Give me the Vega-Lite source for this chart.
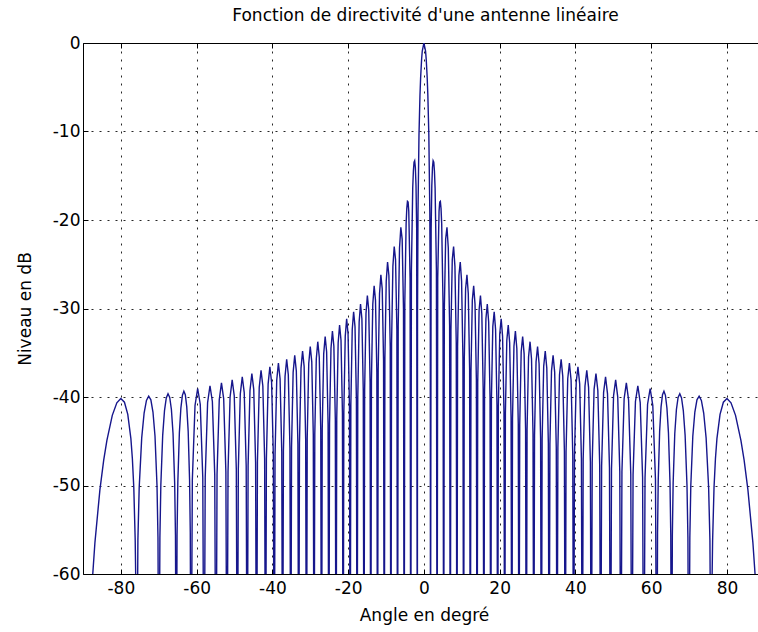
{
"$schema": "https://vega.github.io/schema/vega-lite/v6.json",
"width": 675, "height": 531,
"autosize": {"type": "none"},
"padding": {"left": 83, "top": 43, "right": 0, "bottom": 58},
"background": "white",
"title": {"text": "Fonction de directivité d'une antenne linéaire", "font": "DejaVu Sans", "fontSize": 17, "fontWeight": "normal", "color": "black", "offset": 14, "dx": 5, "dy": 5},
"config": {
  "view": {"stroke": null},
  "axis": {"domainColor": "black", "domainWidth": 1, "tickColor": "black", "tickSize": -5, "tickWidth": 1,
           "labelFont": "DejaVu Sans", "labelFontSize": 17, "labelColor": "black", "labelExpr": "'' + datum.value",
           "titleFont": "DejaVu Sans", "titleFontSize": 17, "titleFontWeight": "normal", "titleColor": "black",
           "gridColor": "black", "gridDash": [2, 6], "gridOpacity": 0.85, "gridWidth": 1}
},
"data": {"values": [
{"a":-90,"d":-80},{"a":-87.557,"d":-60.85},{"a":-86.846,"d":-56.42},{"a":-85.538,"d":-50.49},{"a":-84.535,"d":-47.13},{"a":-83.689,"d":-44.89},{"a":-82.268,"d":-42.07},{"a":-81.07,"d":-40.65},{"a":-80.013,"d":-40.18},{"a":-79.057,"d":-40.59},{"a":-78.178,"d":-41.97},{"a":-77.358,"d":-44.71},{"a":-76.968,"d":-46.95},{"a":-76.588,"d":-50.27},{"a":-76.219,"d":-56.18},{"a":-76.074,"d":-60.58},{"a":-75.859,"d":-80},
{"a":-75.508,"d":-56.15},{"a":-75.165,"d":-50.22},{"a":-74.501,"d":-44.62},{"a":-73.864,"d":-41.81},{"a":-73.251,"d":-40.38},{"a":-72.659,"d":-39.91},{"a":-72.085,"d":-40.32},{"a":-71.529,"d":-41.7},{"a":-70.989,"d":-44.44},{"a":-70.463,"d":-50.0},{"a":-70.205,"d":-55.91},{"a":-69.95,"d":-80},
{"a":-69.698,"d":-55.87},{"a":-69.45,"d":-49.94},{"a":-68.961,"d":-44.34},{"a":-68.482,"d":-41.53},{"a":-68.014,"d":-40.1},{"a":-67.554,"d":-39.63},{"a":-67.104,"d":-40.04},{"a":-66.662,"d":-41.41},{"a":-66.227,"d":-44.16},{"a":-65.8,"d":-49.72},{"a":-65.589,"d":-55.63},{"a":-65.38,"d":-80},
{"a":-65.172,"d":-55.58},{"a":-64.966,"d":-49.66},{"a":-64.559,"d":-44.05},{"a":-64.158,"d":-41.24},{"a":-63.763,"d":-39.81},{"a":-63.373,"d":-39.34},{"a":-62.988,"d":-39.75},{"a":-62.608,"d":-41.12},{"a":-62.233,"d":-43.87},{"a":-61.862,"d":-49.42},{"a":-61.679,"d":-55.34},{"a":-61.497,"d":-80},
{"a":-61.135,"d":-49.36},{"a":-60.423,"d":-40.94},{"a":-59.727,"d":-39.04},{"a":-59.046,"d":-40.82},{"a":-58.377,"d":-49.12},{"a":-58.047,"d":-80},
{"a":-57.733,"d":-49.06},{"a":-57.104,"d":-40.63},{"a":-56.475,"d":-38.73},{"a":-55.846,"d":-40.51},{"a":-55.218,"d":-48.8},{"a":-54.903,"d":-80},
{"a":-54.612,"d":-48.74},{"a":-54.029,"d":-40.32},{"a":-53.445,"d":-38.41},{"a":-52.862,"d":-40.18},{"a":-52.279,"d":-48.48},{"a":-51.988,"d":-80},
{"a":-51.714,"d":-48.41},{"a":-51.167,"d":-39.98},{"a":-50.619,"d":-38.07},{"a":-50.072,"d":-39.84},{"a":-49.525,"d":-48.13},{"a":-49.251,"d":-80},
{"a":-48.992,"d":-48.07},{"a":-48.473,"d":-39.64},{"a":-47.954,"d":-37.73},{"a":-47.436,"d":-39.5},{"a":-46.917,"d":-47.79},{"a":-46.658,"d":-80},
{"a":-46.411,"d":-47.71},{"a":-45.916,"d":-39.27},{"a":-45.421,"d":-37.36},{"a":-44.926,"d":-39.13},{"a":-44.432,"d":-47.41},{"a":-44.184,"d":-80},
{"a":-43.947,"d":-47.34},{"a":-43.472,"d":-38.91},{"a":-42.997,"d":-36.99},{"a":-42.523,"d":-38.75},{"a":-42.048,"d":-47.04},{"a":-41.81,"d":-80},
{"a":-41.581,"d":-46.95},{"a":-41.124,"d":-38.51},{"a":-40.666,"d":-36.59},{"a":-40.208,"d":-38.35},{"a":-39.75,"d":-46.63},{"a":-39.521,"d":-80},
{"a":-39.3,"d":-46.55},{"a":-38.856,"d":-38.11},{"a":-38.413,"d":-36.18},{"a":-37.97,"d":-37.94},{"a":-37.527,"d":-46.21},{"a":-37.305,"d":-80},
{"a":-37.09,"d":-46.12},{"a":-36.66,"d":-37.67},{"a":-36.229,"d":-35.74},{"a":-35.799,"d":-37.49},{"a":-35.368,"d":-45.76},{"a":-35.153,"d":-80},
{"a":-34.943,"d":-45.68},{"a":-34.524,"d":-37.22},{"a":-34.104,"d":-35.29},{"a":-33.685,"d":-37.04},{"a":-33.265,"d":-45.3},{"a":-33.056,"d":-80},
{"a":-32.851,"d":-45.2},{"a":-32.441,"d":-36.74},{"a":-32.032,"d":-34.8},{"a":-31.622,"d":-36.54},{"a":-31.212,"d":-44.8},{"a":-31.008,"d":-80},
{"a":-30.807,"d":-44.7},{"a":-30.406,"d":-36.24},{"a":-30.005,"d":-34.29},{"a":-29.604,"d":-36.03},{"a":-29.203,"d":-44.28},{"a":-29.003,"d":-80},
{"a":-28.806,"d":-44.17},{"a":-28.412,"d":-35.7},{"a":-28.019,"d":-33.75},{"a":-27.626,"d":-35.48},{"a":-27.232,"d":-43.73},{"a":-27.036,"d":-80},
{"a":-26.842,"d":-43.61},{"a":-26.456,"d":-35.13},{"a":-26.069,"d":-33.17},{"a":-25.683,"d":-34.89},{"a":-25.296,"d":-43.13},{"a":-25.103,"d":-80},
{"a":-24.912,"d":-43.01},{"a":-24.532,"d":-34.52},{"a":-24.151,"d":-32.55},{"a":-23.771,"d":-34.26},{"a":-23.39,"d":-42.49},{"a":-23.2,"d":-80},
{"a":-23.012,"d":-42.36},{"a":-22.637,"d":-33.86},{"a":-22.262,"d":-31.88},{"a":-21.887,"d":-33.58},{"a":-21.511,"d":-41.8},{"a":-21.324,"d":-80},
{"a":-21.138,"d":-41.66},{"a":-20.768,"d":-33.15},{"a":-20.397,"d":-31.16},{"a":-20.027,"d":-32.85},{"a":-19.656,"d":-41.06},{"a":-19.471,"d":-80},
{"a":-19.288,"d":-40.9},{"a":-18.922,"d":-32.38},{"a":-18.555,"d":-30.37},{"a":-18.189,"d":-32.05},{"a":-17.823,"d":-40.24},{"a":-17.64,"d":-80},
{"a":-17.458,"d":-40.07},{"a":-17.096,"d":-31.52},{"a":-16.733,"d":-29.5},{"a":-16.371,"d":-31.16},{"a":-16.008,"d":-39.33},{"a":-15.827,"d":-80},
{"a":-15.647,"d":-39.14},{"a":-15.288,"d":-30.57},{"a":-14.928,"d":-28.53},{"a":-14.569,"d":-30.17},{"a":-14.209,"d":-38.32},{"a":-14.03,"d":-80},
{"a":-13.851,"d":-38.1},{"a":-13.495,"d":-29.51},{"a":-13.138,"d":-27.44},{"a":-12.782,"d":-29.05},{"a":-12.425,"d":-37.18},{"a":-12.247,"d":-80},
{"a":-12.07,"d":-36.93},{"a":-11.715,"d":-28.31},{"a":-11.361,"d":-26.2},{"a":-11.007,"d":-27.77},{"a":-10.653,"d":-35.87},{"a":-10.476,"d":-80},
{"a":-10.3,"d":-35.58},{"a":-9.947,"d":-26.91},{"a":-9.595,"d":-24.75},{"a":-9.243,"d":-26.27},{"a":-8.891,"d":-34.32},{"a":-8.715,"d":-80},
{"a":-8.54,"d":-33.98},{"a":-8.189,"d":-25.24},{"a":-7.838,"d":-23.01},{"a":-7.488,"d":-24.46},{"a":-7.137,"d":-32.44},{"a":-6.962,"d":-80},
{"a":-6.787,"d":-32.01},{"a":-6.438,"d":-23.16},{"a":-6.089,"d":-20.82},{"a":-5.74,"d":-22.16},{"a":-5.391,"d":-30.03},{"a":-5.216,"d":-80},
{"a":-5.042,"d":-29.39},{"a":-4.694,"d":-20.41},{"a":-4.519,"d":-18.68},{"a":-4.345,"d":-17.9},{"a":-4.171,"d":-17.98},{"a":-3.997,"d":-19.02},{"a":-3.649,"d":-26.59},{"a":-3.475,"d":-80},
{"a":-3.301,"d":-25.72},{"a":-2.953,"d":-16.39},{"a":-2.779,"d":-14.46},{"a":-2.606,"d":-13.47},{"a":-2.432,"d":-13.3},{"a":-2.258,"d":-14.06},{"a":-2.084,"d":-16.15},{"a":-1.91,"d":-20.97},{"a":-1.737,"d":-80},
{"a":-1.685,"d":-30.21},{"a":-1.563,"d":-19.23},{"a":-1.302,"d":-10.45},{"a":-1.042,"d":-5.94},{"a":-0.868,"d":-3.92},{"a":-0.608,"d":-1.83},{"a":-0.434,"d":-0.91},
{"a":0,"d":0},
{"a":0.434,"d":-0.91},{"a":0.608,"d":-1.83},{"a":0.868,"d":-3.92},{"a":1.042,"d":-5.94},{"a":1.302,"d":-10.45},{"a":1.563,"d":-19.23},{"a":1.685,"d":-30.21},{"a":1.737,"d":-80},
{"a":1.91,"d":-20.97},{"a":2.084,"d":-16.15},{"a":2.258,"d":-14.06},{"a":2.432,"d":-13.3},{"a":2.606,"d":-13.47},{"a":2.779,"d":-14.46},{"a":2.953,"d":-16.39},{"a":3.301,"d":-25.72},{"a":3.475,"d":-80},
{"a":3.649,"d":-26.59},{"a":3.997,"d":-19.02},{"a":4.171,"d":-17.98},{"a":4.345,"d":-17.9},{"a":4.519,"d":-18.68},{"a":4.694,"d":-20.41},{"a":5.042,"d":-29.39},{"a":5.216,"d":-80},
{"a":5.391,"d":-30.03},{"a":5.74,"d":-22.16},{"a":6.089,"d":-20.82},{"a":6.438,"d":-23.16},{"a":6.787,"d":-32.01},{"a":6.962,"d":-80},
{"a":7.137,"d":-32.44},{"a":7.488,"d":-24.46},{"a":7.838,"d":-23.01},{"a":8.189,"d":-25.24},{"a":8.54,"d":-33.98},{"a":8.715,"d":-80},
{"a":8.891,"d":-34.32},{"a":9.243,"d":-26.27},{"a":9.595,"d":-24.75},{"a":9.947,"d":-26.91},{"a":10.3,"d":-35.58},{"a":10.476,"d":-80},
{"a":10.653,"d":-35.87},{"a":11.007,"d":-27.77},{"a":11.361,"d":-26.2},{"a":11.715,"d":-28.31},{"a":12.07,"d":-36.93},{"a":12.247,"d":-80},
{"a":12.425,"d":-37.18},{"a":12.782,"d":-29.05},{"a":13.138,"d":-27.44},{"a":13.495,"d":-29.51},{"a":13.851,"d":-38.1},{"a":14.03,"d":-80},
{"a":14.209,"d":-38.32},{"a":14.569,"d":-30.17},{"a":14.928,"d":-28.53},{"a":15.288,"d":-30.57},{"a":15.647,"d":-39.14},{"a":15.827,"d":-80},
{"a":16.008,"d":-39.33},{"a":16.371,"d":-31.16},{"a":16.733,"d":-29.5},{"a":17.096,"d":-31.52},{"a":17.458,"d":-40.07},{"a":17.64,"d":-80},
{"a":17.823,"d":-40.24},{"a":18.189,"d":-32.05},{"a":18.555,"d":-30.37},{"a":18.922,"d":-32.38},{"a":19.288,"d":-40.9},{"a":19.471,"d":-80},
{"a":19.656,"d":-41.06},{"a":20.027,"d":-32.85},{"a":20.397,"d":-31.16},{"a":20.768,"d":-33.15},{"a":21.138,"d":-41.66},{"a":21.324,"d":-80},
{"a":21.511,"d":-41.8},{"a":21.887,"d":-33.58},{"a":22.262,"d":-31.88},{"a":22.637,"d":-33.86},{"a":23.012,"d":-42.36},{"a":23.2,"d":-80},
{"a":23.39,"d":-42.49},{"a":23.771,"d":-34.26},{"a":24.151,"d":-32.55},{"a":24.532,"d":-34.52},{"a":24.912,"d":-43.01},{"a":25.103,"d":-80},
{"a":25.296,"d":-43.13},{"a":25.683,"d":-34.89},{"a":26.069,"d":-33.17},{"a":26.456,"d":-35.13},{"a":26.842,"d":-43.61},{"a":27.036,"d":-80},
{"a":27.232,"d":-43.73},{"a":27.626,"d":-35.48},{"a":28.019,"d":-33.75},{"a":28.412,"d":-35.7},{"a":28.806,"d":-44.17},{"a":29.003,"d":-80},
{"a":29.203,"d":-44.28},{"a":29.604,"d":-36.03},{"a":30.005,"d":-34.29},{"a":30.406,"d":-36.24},{"a":30.807,"d":-44.7},{"a":31.008,"d":-80},
{"a":31.212,"d":-44.8},{"a":31.622,"d":-36.54},{"a":32.032,"d":-34.8},{"a":32.441,"d":-36.74},{"a":32.851,"d":-45.2},{"a":33.056,"d":-80},
{"a":33.265,"d":-45.3},{"a":33.685,"d":-37.04},{"a":34.104,"d":-35.29},{"a":34.524,"d":-37.22},{"a":34.943,"d":-45.68},{"a":35.153,"d":-80},
{"a":35.368,"d":-45.76},{"a":35.799,"d":-37.49},{"a":36.229,"d":-35.74},{"a":36.66,"d":-37.67},{"a":37.09,"d":-46.12},{"a":37.305,"d":-80},
{"a":37.527,"d":-46.21},{"a":37.97,"d":-37.94},{"a":38.413,"d":-36.18},{"a":38.856,"d":-38.11},{"a":39.3,"d":-46.55},{"a":39.521,"d":-80},
{"a":39.75,"d":-46.63},{"a":40.208,"d":-38.35},{"a":40.666,"d":-36.59},{"a":41.124,"d":-38.51},{"a":41.581,"d":-46.95},{"a":41.81,"d":-80},
{"a":42.048,"d":-47.04},{"a":42.523,"d":-38.75},{"a":42.997,"d":-36.99},{"a":43.472,"d":-38.91},{"a":43.947,"d":-47.34},{"a":44.184,"d":-80},
{"a":44.432,"d":-47.41},{"a":44.926,"d":-39.13},{"a":45.421,"d":-37.36},{"a":45.916,"d":-39.27},{"a":46.411,"d":-47.71},{"a":46.658,"d":-80},
{"a":46.917,"d":-47.79},{"a":47.436,"d":-39.5},{"a":47.954,"d":-37.73},{"a":48.473,"d":-39.64},{"a":48.992,"d":-48.07},{"a":49.251,"d":-80},
{"a":49.525,"d":-48.13},{"a":50.072,"d":-39.84},{"a":50.619,"d":-38.07},{"a":51.167,"d":-39.98},{"a":51.714,"d":-48.41},{"a":51.988,"d":-80},
{"a":52.279,"d":-48.48},{"a":52.862,"d":-40.18},{"a":53.445,"d":-38.41},{"a":54.029,"d":-40.32},{"a":54.612,"d":-48.74},{"a":54.903,"d":-80},
{"a":55.218,"d":-48.8},{"a":55.846,"d":-40.51},{"a":56.475,"d":-38.73},{"a":57.104,"d":-40.63},{"a":57.733,"d":-49.06},{"a":58.047,"d":-80},
{"a":58.377,"d":-49.12},{"a":59.046,"d":-40.82},{"a":59.727,"d":-39.04},{"a":60.423,"d":-40.94},{"a":61.135,"d":-49.36},{"a":61.497,"d":-80},
{"a":61.679,"d":-55.34},{"a":61.862,"d":-49.42},{"a":62.233,"d":-43.87},{"a":62.608,"d":-41.12},{"a":62.988,"d":-39.75},{"a":63.373,"d":-39.34},{"a":63.763,"d":-39.81},{"a":64.158,"d":-41.24},{"a":64.559,"d":-44.05},{"a":64.966,"d":-49.66},{"a":65.172,"d":-55.58},{"a":65.38,"d":-80},
{"a":65.589,"d":-55.63},{"a":65.8,"d":-49.72},{"a":66.227,"d":-44.16},{"a":66.662,"d":-41.41},{"a":67.104,"d":-40.04},{"a":67.554,"d":-39.63},{"a":68.014,"d":-40.1},{"a":68.482,"d":-41.53},{"a":68.961,"d":-44.34},{"a":69.45,"d":-49.94},{"a":69.698,"d":-55.87},{"a":69.95,"d":-80},
{"a":70.205,"d":-55.91},{"a":70.463,"d":-50.0},{"a":70.989,"d":-44.44},{"a":71.529,"d":-41.7},{"a":72.085,"d":-40.32},{"a":72.659,"d":-39.91},{"a":73.251,"d":-40.38},{"a":73.864,"d":-41.81},{"a":74.501,"d":-44.62},{"a":75.165,"d":-50.22},{"a":75.508,"d":-56.15},{"a":75.859,"d":-80},
{"a":76.074,"d":-60.58},{"a":76.219,"d":-56.18},{"a":76.588,"d":-50.27},{"a":76.968,"d":-46.95},{"a":77.358,"d":-44.71},{"a":78.178,"d":-41.97},{"a":79.057,"d":-40.59},{"a":80.013,"d":-40.18},{"a":81.07,"d":-40.65},{"a":82.268,"d":-42.07},{"a":83.689,"d":-44.89},{"a":84.535,"d":-47.13},{"a":85.538,"d":-50.49},{"a":86.846,"d":-56.42},{"a":87.557,"d":-60.85},{"a":90,"d":-80}
]},
"layer": [
  {
    "mark": {"type": "line", "color": "#16168c", "strokeWidth": 1.4, "clip": true},
    "encoding": {
      "x": {"field": "a", "type": "quantitative",
            "scale": {"domain": [-90, 88.2], "nice": false, "zero": false},
            "axis": {"orient": "bottom", "values": [-80, -60, -40, -20, 0, 20, 40, 60, 80], "grid": true,
                     "labelPadding": 11, "title": "Angle en degré", "titleX": 341, "titleY": 41, "titleBaseline": "middle"}},
      "y": {"field": "d", "type": "quantitative",
            "scale": {"domain": [-60, 0], "nice": false, "zero": false},
            "axis": {"orient": "left", "values": [-60, -50, -40, -30, -20, -10, 0], "grid": true,
                     "labelPadding": 8, "title": "Niveau en dB", "titleX": -58, "titleY": 265.5, "titleBaseline": "middle", "titleAngle": 270}}
    }
  },
  {
    "data": {"values": [{"a": 0}]},
    "mark": {"type": "point", "opacity": 0},
    "encoding": {
      "x": {"field": "a", "type": "quantitative",
            "axis": {"orient": "top", "values": [-80, -60, -40, -20, 0, 20, 40, 60, 80], "labels": false, "title": null, "grid": false}}
    }
  }
],
"resolve": {"axis": {"x": "independent"}}
}
